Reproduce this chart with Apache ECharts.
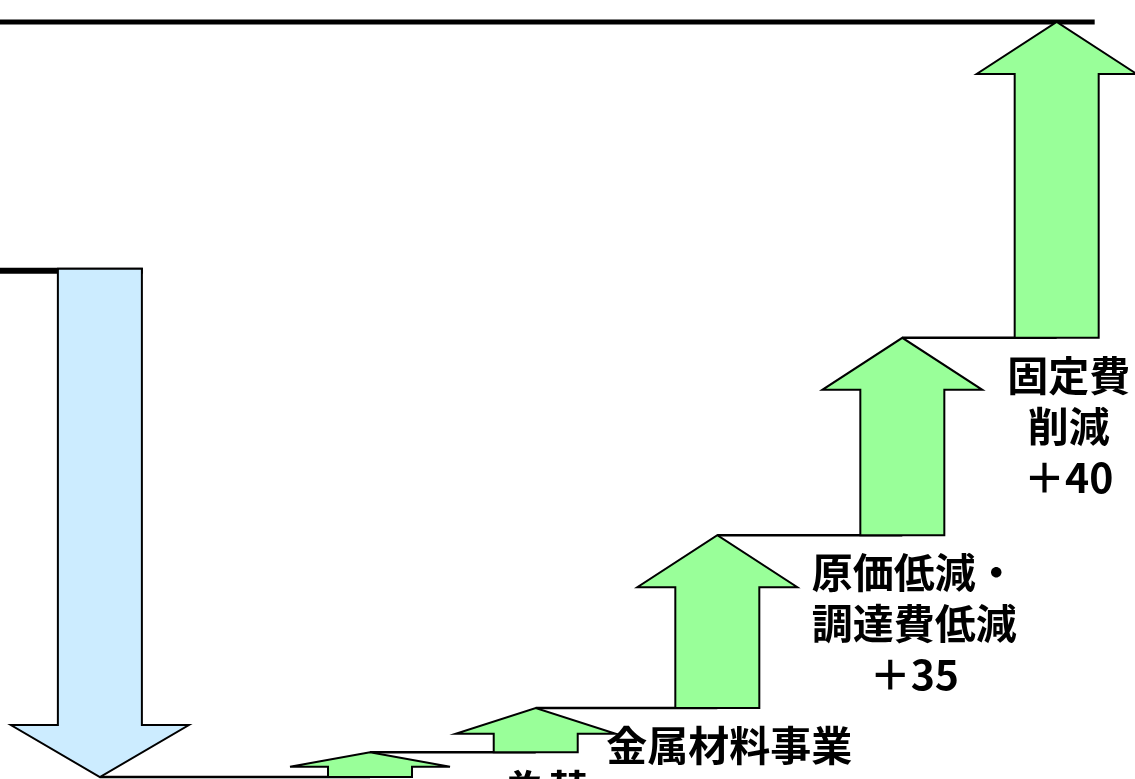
<!DOCTYPE html>
<html>
<head>
<meta charset="utf-8">
<script src="https://cdn.jsdelivr.net/npm/echarts@6/dist/echarts.min.js"></script>
<style>
	html, body { margin: 0; padding: 0; background: #fff; }
	#chart { width: 1135px; height: 779px; }
</style>
</head>
<body>
<div id="chart"></div>
<script>
	// 各ステップの位置（x軸の値）と増減値
	var stepX = [8.8, 32.6, 47.2, 63.2, 79.5, 93.1];
	var startValue = 103;
	var deltas = [-103, 5, 9, 35, 40, 64];
	var stepLabels = ['', '為替', '金属材料事業', '原価低減・\n調達費低減\n＋35', '固定費\n削減\n＋40', ''];

	// 累積レベル
	var levels = [startValue];
	for (var i = 0; i < deltas.length; i++) {
		levels.push(levels[i] + deltas[i]);
	}
	var targetValue = levels[levels.length - 1];

	var SHAFT = 42, HEAD = 80, HEAD_DOWN = 89, HEAD_LEN = 52;

	var arrowData = deltas.map(function(d, i) {
		return [stepX[i], levels[i], levels[i + 1]];
	});

	// 水平線：開始、つなぎ線、目標
	var lineData = [[0, stepX[0], startValue]];
	var lineKind = ['start'];
	for (var j = 0; j < stepX.length - 1; j++) {
		lineData.push([stepX[j], stepX[j + 1], levels[j + 1]]);
		lineKind.push('link');
	}
	lineData.push([0, stepX[stepX.length - 1], targetValue]);
	lineKind.push('target');

	var option = {
		animation: false,
		grid: { left: 0, right: 0, top: 0, bottom: 0 },
		xAxis: { type: 'value', min: 0, max: 100, show: false },
		yAxis: { type: 'value', min: -0.4, max: 157.45, show: false },
		series: [{
			type: 'custom',
			z: 1,
			data: lineData,
			renderItem: function(params, api) {
				var kind = lineKind[params.dataIndex];
				var p1 = api.coord([api.value(0), api.value(2)]);
				var p2 = api.coord([api.value(1), api.value(2)]);
				var x2 = p2[0], y = p1[1], w = 2.5;
				if (kind == 'start') { x2 = p2[0] + SHAFT + 1; w = 6; y = p1[1] + 2; }
				if (kind == 'target') { x2 = p2[0] + 38; w = 5; }
				return {
					type: 'line',
					shape: { x1: p1[0], y1: y, x2: x2, y2: y },
					style: { stroke: '#000', lineWidth: w }
				};
			}
		}, {
			type: 'custom',
			z: 2,
			data: arrowData,
			renderItem: function(params, api) {
				var i = params.dataIndex;
				var pFrom = api.coord([api.value(0), api.value(1)]);
				var pTo = api.coord([api.value(0), api.value(2)]);
				var cx = pFrom[0];
				var down = pTo[1] > pFrom[1];
				var h = Math.abs(pTo[1] - pFrom[1]);
				var hl = Math.min(HEAD_LEN, h * 0.58);
				var hw = down ? HEAD_DOWN : HEAD;
				var yb = down ? pTo[1] - hl : pTo[1] + hl;
				var children = [{
					type: 'polygon',
					shape: {
						points: [
							[cx - SHAFT, pFrom[1]], [cx - SHAFT, yb], [cx - hw, yb],
							[cx, pTo[1]],
							[cx + hw, yb], [cx + SHAFT, yb], [cx + SHAFT, pFrom[1]]
						]
					},
					style: {
						fill: down ? '#CCECFF' : '#99FF99',
						stroke: '#000',
						lineWidth: 2,
						lineJoin: 'miter'
					}
				}];
				if (stepLabels[i] && i + 1 < stepX.length) {
					var pNext = api.coord([stepX[i + 1], api.value(2)]);
					children.push({
						type: 'text',
						x: pNext[0] + 12,
						y: pTo[1] + 12,
						style: {
							text: stepLabels[i],
							fill: '#000',
							fontSize: 41,
							fontWeight: 'bold',
							fontFamily: '"Noto Sans CJK JP", sans-serif',
							lineHeight: 51,
							align: 'center',
							verticalAlign: 'top'
						}
					});
				}
				return { type: 'group', children: children };
			}
		}]
	};

	var myChart = echarts.init(document.getElementById('chart'));
	myChart.setOption(option);
</script>
</body>
</html>
